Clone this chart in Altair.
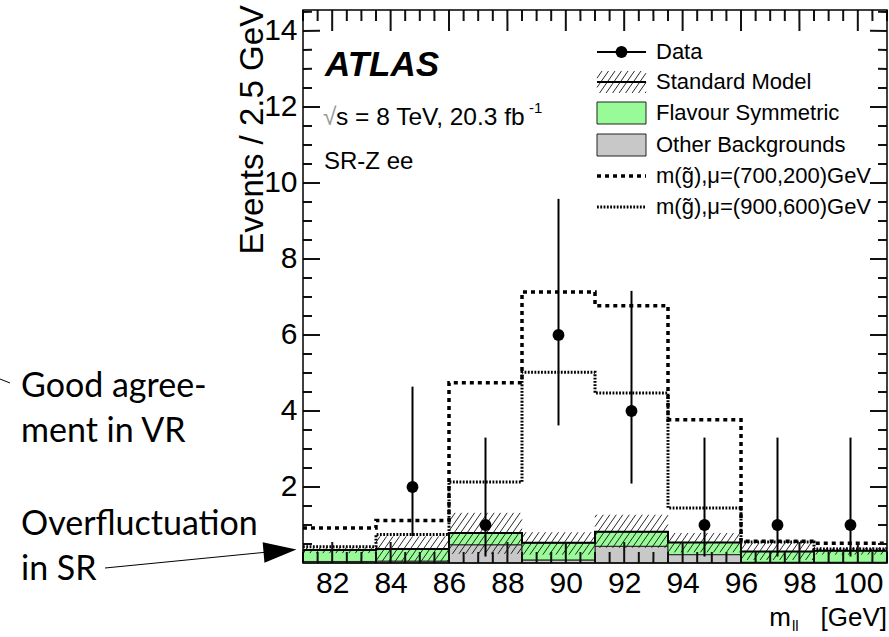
import altair as alt
import pandas as pd
import numpy as np

# ---------------- data ----------------
bin_edges = [81.0, 83.5, 86.0, 88.5, 91.0, 93.5, 96.0, 98.5, 101.0]
other_bkg = [0.04, 0.05, 0.48, 0.08, 0.44, 0.22, 0.02, 0.02]
flav_sym = [0.30, 0.32, 0.31, 0.45, 0.38, 0.32, 0.28, 0.30]
sm_band_up = [0.42, 0.70, 1.32, 0.81, 1.27, 0.79, 0.53, 0.42]
sm_band_dn = [0.26, 0.04, 0.24, 0.22, 0.40, 0.28, 0.08, 0.22]
sig_700_200 = [0.92, 1.12, 4.74, 7.13, 6.77, 3.77, 0.57, 0.52]
sig_900_600 = [0.43, 0.75, 2.13, 5.02, 4.47, 1.45, 0.55, 0.37]
data_x = [84.75, 87.25, 89.75, 92.25, 94.75, 97.25, 99.75]
data_y = [2, 1, 6, 4, 1, 1, 1]
data_lo = [0.71, 0.17, 3.62, 2.09, 0.17, 0.17, 0.17]
data_hi = [4.64, 3.30, 9.58, 7.16, 3.30, 3.30, 3.30]
x_tick_labels = [82, 84, 86, 88, 90, 92, 94, 96, 98, 100]
y_tick_labels = [2, 4, 6, 8, 10, 12, 14]
legend_labels = ["Data", "Standard Model", "Flavour Symmetric", "Other Backgrounds",
                 "m(g\u0303),\u03bc=(700,200)GeV", "m(g\u0303),\u03bc=(900,600)GeV"]
annotation_lines = ["Good agree-", "ment in VR", "Overfluctuation", "in SR"]

# ---------------- layout ----------------
W, H = 584, 553
OX, OY = 303, 10
X0, X1 = 81.0, 101.0
Y0, Y1 = 0.0, 14.55
FONT = "Liberation Sans"
AFONT = "Lato"
GREEN = "#98fb98"
GREY = "#c8c8c8"

xs = alt.Scale(domain=[X0, X1], nice=False, zero=False)
ys = alt.Scale(domain=[Y0, Y1], nice=False, zero=False)
XAX = alt.Axis(values=x_tick_labels, title=None, ticks=False, tickSize=0, domain=False, grid=False,
               labelFontSize=30, labelFont=FONT, labelColor="black", labelPadding=5, labelFlush=False)
YAX = alt.Axis(values=y_tick_labels, title=None, ticks=False, tickSize=0, domain=False, grid=False,
               labelFontSize=30, labelFont=FONT, labelColor="black", labelPadding=6)


def X(f):
    return alt.X(f, type="quantitative", scale=xs, axis=XAX)


def Y(f):
    return alt.Y(f, type="quantitative", scale=ys, axis=YAX)


lo = bin_edges[:-1]
hi = bin_edges[1:]
total = [o + f for o, f in zip(other_bkg, flav_sym)]
hist = pd.DataFrame({"lo": lo, "hi": hi, "zero": [0.0] * len(lo), "other": other_bkg,
                     "total": total, "bup": sm_band_up, "bdn": sm_band_dn})


def step_df(vals):
    return pd.DataFrame({"x": bin_edges, "y": list(vals) + [vals[-1]]})


SX = W / (X1 - X0)
SY = H / (Y1 - Y0)


def hatch(x_lo, x_hi, y_lo, y_hi, spacing=6.5, angle=55):
    k = np.tan(np.radians(angle))
    segs = []
    for a, b, l, h in zip(x_lo, x_hi, y_lo, y_hi):
        Xa, Xb = (a - X0) * SX, (b - X0) * SX
        Yl, Yh = (l - Y0) * SY, (h - Y0) * SY
        n0 = int(np.floor((Xa - Yh / k) / spacing))
        n1 = int(np.ceil((Xb - Yl / k) / spacing))
        for n in range(n0, n1 + 1):
            c = n * spacing
            s = max(Xa, c + Yl / k)
            e = min(Xb, c + Yh / k)
            if e - s > 0.3:
                segs.append({"x": X0 + s / SX, "x2": X0 + e / SX,
                             "y": Y0 + k * (s - c) / SY, "y2": Y0 + k * (e - c) / SY})
    return pd.DataFrame(segs)


def px2x(px):
    return X0 + (px - OX) / SX


def px2y(py):
    return Y0 + (OY + H - py) / SY


one = pd.DataFrame({"d": [0]})


def txt(s, x, y, size, font=FONT, align="left", baseline="middle", **kw):
    return alt.Chart(one).mark_text(text=s, fontSize=size, font=font, align=align,
                                    baseline=baseline, color=kw.pop("color", "black"), **kw).encode(
        x=alt.value(x), y=alt.value(y))


layers = []

# stacked backgrounds
layers.append(alt.Chart(hist).mark_rect(fill=GREY, stroke="#222", strokeWidth=1).encode(
    x=X("lo"), x2="hi", y=Y("zero"), y2="other"))
layers.append(alt.Chart(hist).mark_rect(fill=GREEN, stroke="#222", strokeWidth=1).encode(
    x=X("lo"), x2="hi", y=Y("other"), y2="total"))
# SM uncertainty hatch
layers.append(alt.Chart(hatch(lo, hi, sm_band_dn, sm_band_up)).mark_rule(color="#111", strokeWidth=0.9).encode(
    x=X("x"), x2="x2", y=Y("y"), y2="y2"))
# SM total line
layers.append(alt.Chart(step_df(total)).mark_line(interpolate="step-after", color="black", strokeWidth=2).encode(
    x=X("x"), y=Y("y")))
# signals
layers.append(alt.Chart(step_df(sig_700_200)).mark_line(interpolate="step-after", color="black",
                                                        strokeWidth=3.5, strokeDash=[4, 4]).encode(
    x=X("x"), y=Y("y")))
layers.append(alt.Chart(step_df(sig_900_600)).mark_line(interpolate="step-after", color="black",
                                                        strokeWidth=3, strokeDash=[1.8, 1.5]).encode(
    x=X("x"), y=Y("y")))

# inner ticks on all four sides (segments in data units)
x_minor = [X0 + 0.5 * i for i in range(41) if (X0 + 0.5 * i) % 2 != 0]
y_minor = [0.5 * i for i in range(30) if (0.5 * i) % 2 != 0]
tick_rows = []
for vals, L in [(x_minor, 11), (x_tick_labels, 21)]:
    for t in vals:
        tick_rows.append({"tx": float(t), "tx2": float(t) + 0.001, "ty": Y0, "ty2": Y0 + L / SY})
        tick_rows.append({"tx": float(t), "tx2": float(t) + 0.001, "ty": Y1, "ty2": Y1 - L / SY})
for vals, L in [(y_minor, 9), (y_tick_labels, 17)]:
    for t in vals:
        tick_rows.append({"tx": X0, "tx2": X0 + L / SX, "ty": float(t), "ty2": float(t) + 0.001})
        tick_rows.append({"tx": X1, "tx2": X1 - L / SX, "ty": float(t), "ty2": float(t) + 0.001})
ticks_df = pd.DataFrame(tick_rows)
layers.append(alt.Chart(ticks_df).mark_rule(color="#111111", strokeWidth=2, opacity=1).encode(
    x=X("tx"), x2="tx2", y=Y("ty"), y2="ty2"))

# data
dd = pd.DataFrame({"x": data_x, "y": data_y, "lo": data_lo, "hi": data_hi})
layers.append(alt.Chart(dd).mark_rule(color="black", strokeWidth=2).encode(x=X("x"), y=Y("lo"), y2="hi"))
layers.append(alt.Chart(dd).mark_circle(color="black", opacity=1, size=140).encode(x=X("x"), y=Y("y")))

# frame
layers.append(alt.Chart(one).mark_rect(filled=False, stroke="black", strokeWidth=1.5).encode(
    x=alt.value(0), x2=alt.value(W), y=alt.value(0), y2=alt.value(H)))

# labels inside plot
layers.append(txt("ATLAS", 325 - OX, 65 - OY, 35, fontStyle="italic", fontWeight="bold"))
layers.append(txt("\u221a", 323 - OX, 118 - OY, 24.5, color="#999"))
layers.append(txt("s = 8 TeV, 20.3 fb", 336 - OX, 118 - OY, 24.5))
layers.append(txt("-1", 529 - OX, 108 - OY, 15))
layers.append(txt("SR-Z ee", 324 - OX, 162 - OY, 24))

# legend
LX0, LX1 = 597 - OX, 646 - OX
ly = [52, 82, 113, 145, 176, 207]
ly = [v - OY for v in ly]
for lab, yy in zip(legend_labels, ly):
    layers.append(txt(lab, 656 - OX, yy, 22))
layers.append(alt.Chart(one).mark_rule(color="black", strokeWidth=2).encode(
    x=alt.value(LX0), x2=alt.value(LX1), y=alt.value(ly[0])))
layers.append(alt.Chart(one).mark_circle(color="black", opacity=1, size=140).encode(
    x=alt.value((LX0 + LX1) / 2), y=alt.value(ly[0])))
leg_h = hatch([px2x(597)], [px2x(646)], [px2y(93)], [px2y(71)])
layers.append(alt.Chart(leg_h).mark_rule(color="#111", strokeWidth=0.9).encode(
    x=X("x"), x2="x2", y=Y("y"), y2="y2"))
layers.append(alt.Chart(one).mark_rule(color="black", strokeWidth=2).encode(
    x=alt.value(LX0), x2=alt.value(LX1), y=alt.value(ly[1])))
for yy, col in [(ly[2], GREEN), (ly[3], GREY)]:
    layers.append(alt.Chart(one).mark_rect(fill=col, stroke="#222", strokeWidth=1).encode(
        x=alt.value(LX0), x2=alt.value(LX1), y=alt.value(yy - 11), y2=alt.value(yy + 11)))
layers.append(alt.Chart(one).mark_rule(color="black", strokeWidth=3.5, strokeDash=[4, 4]).encode(
    x=alt.value(LX0), x2=alt.value(LX1), y=alt.value(ly[4])))
layers.append(alt.Chart(one).mark_rule(color="black", strokeWidth=3, strokeDash=[1.8, 1.5]).encode(
    x=alt.value(LX0), x2=alt.value(LX1), y=alt.value(ly[5])))

# axis titles
layers.append(txt("Events / 2.5 GeV", 253 - OX, 5 - OY, 33, align="right", angle=270))
layers.append(txt(" [GeV]", W, 626 - OY, 26, align="right", baseline="alphabetic"))
layers.append(txt("ll", 792 - OX, 631 - OY, 15, baseline="alphabetic"))
layers.append(txt("m", 791 - OX, 626 - OY, 26, align="right", baseline="alphabetic"))

# annotations outside the plot
for s, yb in zip(annotation_lines, [397, 442, 535, 580]):
    layers.append(txt(s, 21 - OX, yb - OY, 34, font=AFONT, baseline="alphabetic"))
layers.append(alt.Chart(one).mark_rule(color="black", strokeWidth=1).encode(
    x=alt.value(105 - OX), x2=alt.value(268 - OX), y=alt.value(568 - OY), y2=alt.value(552 - OY)))
layers.append(alt.Chart(one).mark_point(shape="M -1 -0.62 L 1 0 L -1 0.62 Z", filled=True, color="black",
                                        opacity=1, size=1089, angle=355).encode(
    x=alt.value(280 - OX), y=alt.value(551 - OY)))
layers.append(alt.Chart(one).mark_rule(color="black", strokeWidth=1).encode(
    x=alt.value(0 - OX), x2=alt.value(10 - OX), y=alt.value(379 - OY), y2=alt.value(383 - OY)))

chart = alt.layer(*layers).properties(
    width=W, height=H,
    padding={"left": OX, "top": OY, "right": 889 - OX - W, "bottom": 637 - OY - H},
    autosize=alt.AutoSizeParams(type="none"),
    background="white",
).configure_view(stroke=None)

chart.save("out.html", embed_options={"renderer": "svg", "actions": False})
